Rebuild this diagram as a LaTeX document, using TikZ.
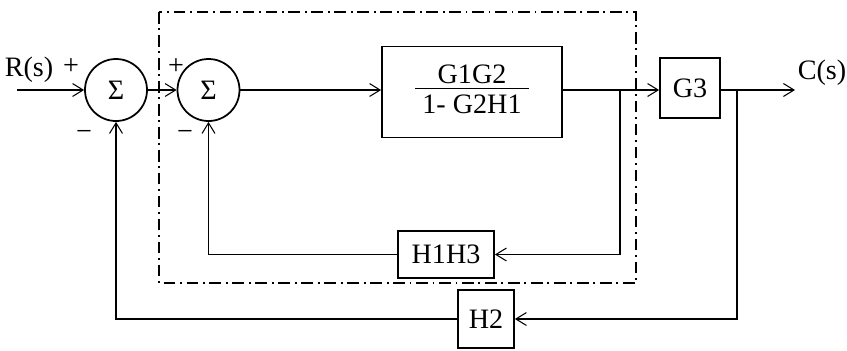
\documentclass[tikz,border=0pt]{standalone}
\usepackage{fontspec}
\setmainfont{Liberation Serif}
\usetikzlibrary{arrows.meta,calc,positioning}

\begin{document}
\begin{tikzpicture}[x=0.03cm, y=-0.03cm, >={Straight Barb[length=9pt,width=11pt]},
    font=\fontsize{24}{28}\selectfont,
    blk/.style={draw, line width=1.5pt, inner sep=0pt},
    sumnode/.style={draw, circle, line width=1.5pt, minimum size=1.86cm, inner sep=0pt},
    conn/.style={line width=0.9pt},
    segno/.style={inner sep=0pt}]
    \useasboundingbox (0,0) rectangle (847,350);

    % Sottosistema interno (tratto-punto)
    \draw[line width=1.6pt, dash pattern=on 10pt off 4pt on 1.6pt off 4pt] (159,12) rectangle (636,283);

    % Nodi sommatori
    \node[sumnode] (sum1) at (116,90) {Σ};
    \node[sumnode] (sum2) at (208.5,90) {Σ};

    % Blocchi
    \node[blk, minimum width=5.4cm, minimum height=2.73cm] (main) at (472,92)
        {\setlength{\arrayrulewidth}{1pt}\begin{tabular}{c}G1G2\\[-5pt]\hline\rule{0pt}{21pt}1- G2H1\end{tabular}};
    \node[blk, minimum width=1.8cm, minimum height=1.8cm] (G3) at (690,88) {G3};
    \node[blk, minimum width=2.88cm, minimum height=1.41cm] (H1H3) at (446,254.5) {H1H3};
    \node[blk, minimum width=1.68cm, minimum height=1.74cm] (H2) at (486,319) {H2};

    % Ingresso e uscita
    \coordinate (in) at (17,90);
    \coordinate (out) at (795,90);
    \node (R) at (29,70) {R(s)};
    \node (C) at (822,73) {C(s)};

    % Segni
    \node[segno] (p1) at (71,67) {+};
    \node[segno] (m1) at (84,135) {−};
    \node[segno] (p2) at (176,67) {+};
    \node[segno] (m2) at (185,135) {−};

    % Catena diretta
    \draw[->, conn] (in) -- (sum1.west);
    \draw[->, conn] (sum1.east) -- (sum2.west);
    \draw[->, conn] (sum2.east) -- (main.west |- sum2.east);
    \draw[->, conn] (main.east |- sum2.east) -- (G3.west |- sum2.east);
    \draw[->, conn] (G3.east |- sum2.east) -- (out);

    % Punti di diramazione
    \coordinate (br1) at (620,90);
    \coordinate (br2) at (737,90);

    % Retroazione interna H1H3
    \draw[->, conn] (br1) |- (H1H3.east);
    \draw[->, conn] (H1H3.west) -| (sum2.south);

    % Retroazione esterna H2
    \draw[->, conn] (br2) |- (H2.east);
    \draw[->, conn] (H2.west) -| (sum1.south);
\end{tikzpicture}
\end{document}
